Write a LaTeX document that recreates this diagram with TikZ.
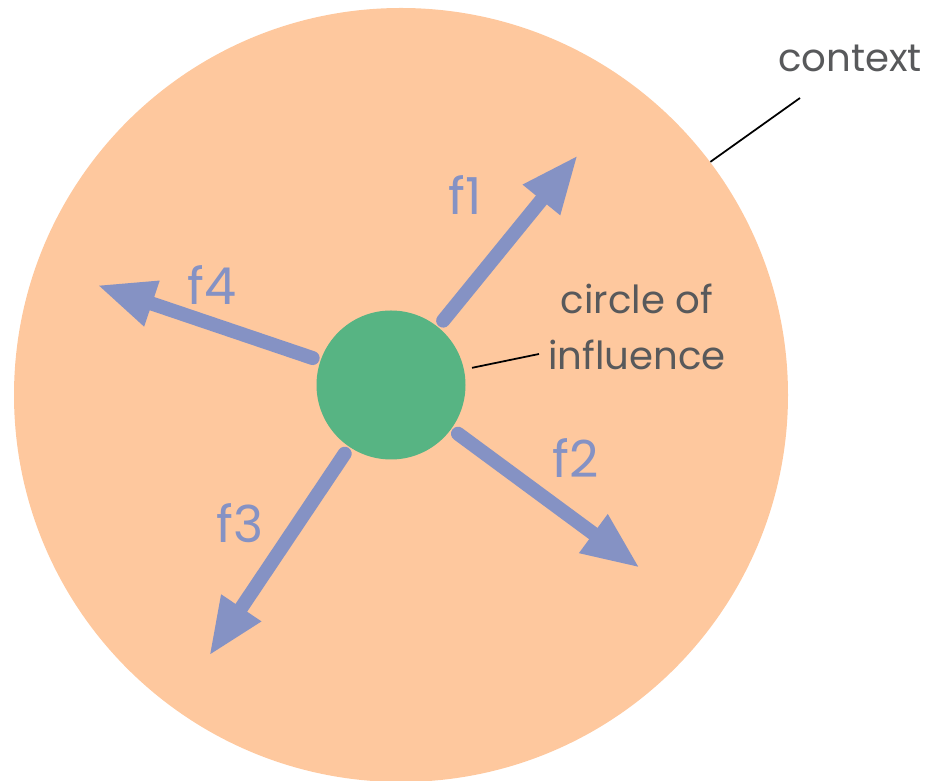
\documentclass[tikz,border=0pt]{standalone}
\usepackage{fontspec}
\setmainfont{Poppins}
\usepackage{xcolor}
\usetikzlibrary{arrows.meta}

\definecolor{peach}{HTML}{FEC89E}
\definecolor{leaf}{HTML}{57B483}
\definecolor{slate}{HTML}{8592C4}
\definecolor{ink}{HTML}{58595B}

\begin{document}
\begin{tikzpicture}[
  ctx/.style={circle, fill=peach, minimum size=15.48cm, inner sep=0pt},
  inf/.style={circle, fill=leaf, minimum size=2.98cm, inner sep=0pt},
  force/.style={-{Triangle[length=11.6mm, width=8.8mm]}, line width=2.8mm,
                line cap=round, slate, shorten <=1.6mm},
  flab/.style={font=\fontsize{29}{29}\selectfont, text=slate, inner sep=0pt},
  lab/.style={font=\fontsize{22}{32}\selectfont, text=ink, align=center, inner sep=0pt},
  ptr/.style={black, line width=1pt}]

\useasboundingbox (0,0) rectangle (18.5,15.62);

\node[ctx] (ctx) at (8.02,7.72) {};
\node[inf] (coi) at (7.82,7.92) {};

% tips of the four forces
\coordinate (t1) at (11.56,12.52);
\coordinate (t2) at (12.80,4.26);
\coordinate (t3) at (4.18,2.50);
\coordinate (t4) at (1.94,9.92);

\draw[force] (coi.51)  -- (t1);
\draw[force] (coi.-36) -- (t2);
\draw[force] (coi.236) -- (t3);
\draw[force] (coi.161) -- (t4);

\node[flab] (l1) at (9.30,11.72) {f1};
\node[flab] (l2) at (11.52,6.46) {f2};
\node[flab] (l3) at (4.80,5.16)  {f3};
\node[flab] (l4) at (4.24,9.92)  {f4};

\node[lab] (ctxlab) at (17.0,14.46) {context};
\node[lab] (coilab) at (12.74,9.08) {circle of\\influence};

\coordinate (p1) at (16.0,13.66);
\coordinate (p2) at (10.78,8.54);
\draw[ptr] (ctx.37) -- (p1);
\draw[ptr, shorten <=1.6mm] (coi.12) -- (p2);
\end{tikzpicture}
\end{document}
